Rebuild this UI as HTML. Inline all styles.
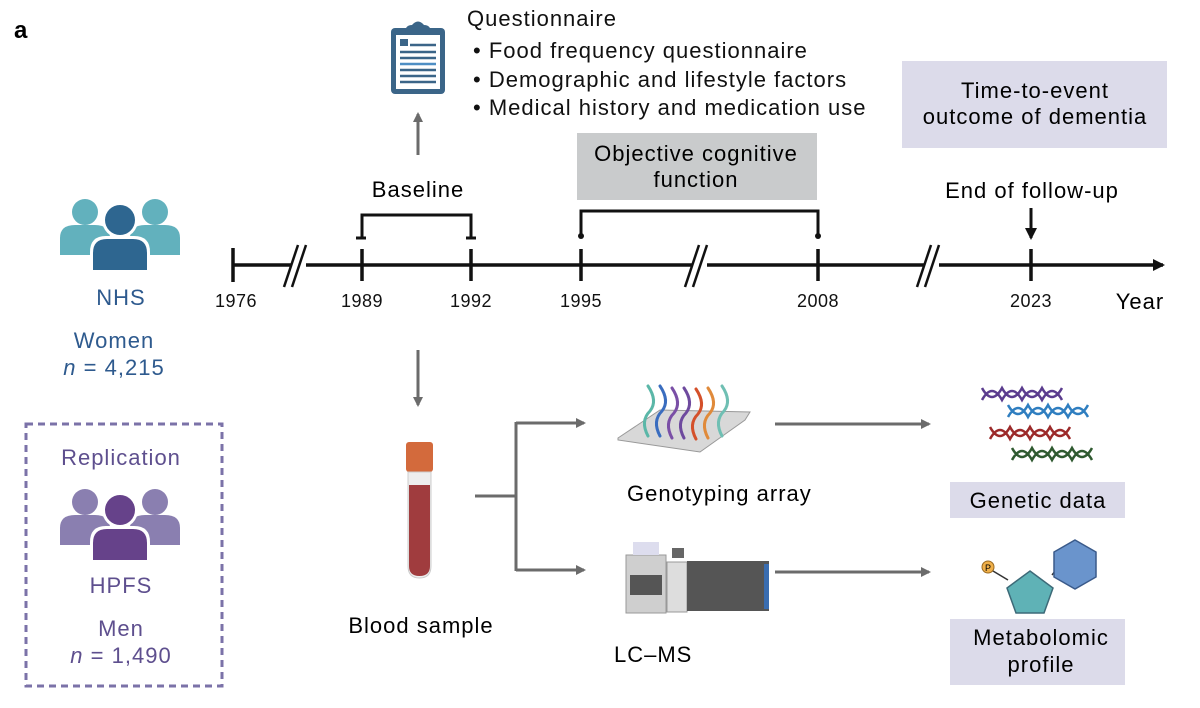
<!DOCTYPE html>
<html><head><meta charset="utf-8"><style>
html,body{margin:0;padding:0;background:#fff}
svg{display:block}
text{font-family:"Liberation Sans",sans-serif}
.t{font-size:22px;letter-spacing:1px}
</style></head><body>
<svg width="1200" height="708" viewBox="0 0 1200 708" xmlns="http://www.w3.org/2000/svg">
<defs>
<marker id="ag" markerWidth="10" markerHeight="10" refX="8" refY="5" orient="auto" markerUnits="userSpaceOnUse"><path d="M0,0 L10,5 L0,10 Z" fill="#6b6b6b"/></marker>
<marker id="ab" markerWidth="12" markerHeight="12" refX="10" refY="6" orient="auto" markerUnits="userSpaceOnUse"><path d="M0,0 L12,6 L0,12 Z" fill="#111"/></marker>
<g id="ppl">
<circle cx="85" cy="502" r="13"/><circle cx="155" cy="502" r="13"/>
<path d="M60,545 V528 Q60,515 75,515 H95 Q110,515 110,528 V545 Z"/>
<path d="M130,545 V528 Q130,515 145,515 H165 Q180,515 180,528 V545 Z"/>
</g>
</defs>
<text x="14" y="38" font-size="24" font-weight="bold">a</text>

<g fill="#62b1bd" transform="translate(0,-290)"><use href="#ppl"/></g>
<g transform="translate(0,-290)"><circle cx="120" cy="510" r="18" fill="#fff"/><circle cx="120" cy="510" r="15" fill="#2e6690"/>
<path d="M90,562 V542 Q90,526 106,526 H134 Q150,526 150,542 V562 Z" fill="#fff"/>
<path d="M93,560 V543 Q93,529 107,529 H133 Q147,529 147,543 V560 Z" fill="#2e6690"/></g>
<g fill="#2e5a8e" class="t" text-anchor="middle">
<text x="121" y="305">NHS</text><text x="114" y="348">Women</text><text x="114" y="375"><tspan font-style="italic">n</tspan> = 4,215</text></g>

<rect x="26" y="424" width="196" height="262" fill="none" stroke="#7b72a8" stroke-width="3" stroke-dasharray="7,5"/>
<g fill="#8a7fb0"><use href="#ppl"/></g>
<circle cx="120" cy="510" r="18" fill="#fff"/><circle cx="120" cy="510" r="15" fill="#66428a"/>
<path d="M90,562 V542 Q90,526 106,526 H134 Q150,526 150,542 V562 Z" fill="#fff"/>
<path d="M93,560 V543 Q93,529 107,529 H133 Q147,529 147,543 V560 Z" fill="#66428a"/>
<g fill="#5e4f8e" class="t" text-anchor="middle">
<text x="121" y="465">Replication</text><text x="121" y="593">HPFS</text><text x="121" y="636">Men</text><text x="121" y="663"><tspan font-style="italic">n</tspan> = 1,490</text></g>

<rect x="391" y="28" width="54" height="66" rx="4" fill="#3b6588"/>
<rect x="396" y="35" width="44" height="54" fill="#fff"/>
<path d="M405,33 Q405,25 412,25 Q418,18 424,25 Q431,25 431,33 Z" fill="#3b6588"/>
<rect x="400" y="39" width="8" height="7" fill="#3b6588"/>
<g stroke="#3b6588" stroke-width="2.5"><line x1="410" y1="45" x2="436" y2="45"/><line x1="400" y1="52" x2="436" y2="52"/><line x1="400" y1="58" x2="436" y2="58"/><line x1="400" y1="70" x2="436" y2="70"/><line x1="400" y1="76" x2="436" y2="76"/><line x1="400" y1="82" x2="436" y2="82"/></g>
<line x1="400" y1="64" x2="436" y2="64" stroke="#4e8ec4" stroke-width="2.5"/>

<g class="t" fill="#111">
<text x="467" y="26">Questionnaire</text>
<text x="473" y="58">• Food frequency questionnaire</text>
<text x="473" y="87">• Demographic and lifestyle factors</text>
<text x="473" y="115">• Medical history and medication use</text></g>

<line x1="418" y1="155" x2="418" y2="114" stroke="#6b6b6b" stroke-width="3" marker-end="url(#ag)"/>

<rect x="577" y="133" width="240" height="67" fill="#c9cbcc"/>
<text x="696" y="161" class="t" text-anchor="middle">Objective cognitive</text>
<text x="696" y="187" class="t" text-anchor="middle">function</text>
<rect x="902" y="61" width="265" height="87" fill="#dcdbea"/>
<text x="1035" y="98" class="t" text-anchor="middle">Time-to-event</text>
<text x="1035" y="124" class="t" text-anchor="middle">outcome of dementia</text>

<text x="418" y="197" class="t" text-anchor="middle">Baseline</text>
<text x="1032" y="198" class="t" text-anchor="middle">End of follow-up</text>
<line x1="1031" y1="208" x2="1031" y2="238" stroke="#111" stroke-width="3" marker-end="url(#ab)"/>

<path d="M362,237 V215 H471 V237" fill="none" stroke="#111" stroke-width="3"/>
<line x1="356" y1="238" x2="366" y2="238" stroke="#111" stroke-width="3"/>
<line x1="466" y1="238" x2="476" y2="238" stroke="#111" stroke-width="3"/>
<path d="M581,235 V211 H818 V235" fill="none" stroke="#111" stroke-width="3"/>
<circle cx="581" cy="236" r="3" fill="#111"/><circle cx="818" cy="236" r="3" fill="#111"/>

<line x1="233" y1="265" x2="1163" y2="265" stroke="#111" stroke-width="3.5" marker-end="url(#ab)"/>
<g stroke="#111" stroke-width="3.5">
<line x1="233" y1="248" x2="233" y2="282"/><line x1="362" y1="249" x2="362" y2="281"/><line x1="471" y1="249" x2="471" y2="281"/><line x1="581" y1="249" x2="581" y2="281"/><line x1="818" y1="249" x2="818" y2="281"/><line x1="1031" y1="249" x2="1031" y2="281"/></g>
<g stroke="#fff" stroke-width="8"><line x1="291" y1="265" x2="306" y2="265"/><line x1="692" y1="265" x2="707" y2="265"/><line x1="924" y1="265" x2="939" y2="265"/></g>
<g stroke="#111" stroke-width="2.5">
<line x1="284" y1="287" x2="298" y2="245"/><line x1="292" y1="287" x2="306" y2="245"/>
<line x1="685" y1="287" x2="699" y2="245"/><line x1="693" y1="287" x2="707" y2="245"/>
<line x1="917" y1="287" x2="931" y2="245"/><line x1="925" y1="287" x2="939" y2="245"/></g>
<g font-size="18" text-anchor="middle" fill="#111" letter-spacing="0.5">
<text x="236" y="307">1976</text><text x="362" y="307">1989</text><text x="471" y="307">1992</text><text x="581" y="307">1995</text><text x="818" y="307">2008</text><text x="1031" y="307">2023</text></g>
<text x="1140" y="309" class="t" text-anchor="middle">Year</text>

<line x1="418" y1="350" x2="418" y2="405" stroke="#6b6b6b" stroke-width="3" marker-end="url(#ag)"/>
<rect x="406" y="442" width="27" height="30" rx="3" fill="#d36a3c"/>
<path d="M408,472 H431 V566 Q431,578 419.5,578 Q408,578 408,566 Z" fill="#eee" stroke="#ccc"/>
<path d="M409,485 H430 V566 Q430,576 419.5,576 Q409,576 409,566 Z" fill="#a03c3e"/>
<text x="421" y="633" class="t" text-anchor="middle">Blood sample</text>

<g stroke="#6b6b6b" stroke-width="3" fill="none">
<line x1="475" y1="496" x2="516" y2="496"/>
<line x1="516" y1="422" x2="516" y2="571"/>
<line x1="516" y1="423" x2="584" y2="423" marker-end="url(#ag)"/>
<line x1="516" y1="570" x2="584" y2="570" marker-end="url(#ag)"/>
<line x1="775" y1="424" x2="929" y2="424" marker-end="url(#ag)"/>
<line x1="775" y1="572" x2="929" y2="572" marker-end="url(#ag)"/></g>

<path d="M618,438 L660,410 L750,412 L745,420 L700,452 L618,440 Z" fill="#d8d8d8" stroke="#999"/>
<g fill="none" stroke-width="3" stroke-linecap="round">
<path d="M648,436 q-8,-15 2,-25 q8,-10 -2,-25" stroke="#5bb7a8"/>
<path d="M660,436 q-8,-15 2,-25 q8,-10 -2,-25" stroke="#3a6dbf"/>
<path d="M672,438 q-8,-15 2,-25 q8,-10 -2,-25" stroke="#7a4fa6"/>
<path d="M684,438 q-8,-15 2,-25 q8,-10 -2,-25" stroke="#6e4a9e"/>
<path d="M696,439 q-8,-15 2,-25 q8,-10 -2,-25" stroke="#d4502a"/>
<path d="M708,438 q-8,-15 2,-25 q8,-10 -2,-25" stroke="#e08a3a"/>
<path d="M722,436 q-8,-15 2,-25 q8,-10 -2,-25" stroke="#6fbfb3"/></g>
<text x="627" y="501" class="t">Genotyping array</text>

<rect x="626" y="555" width="40" height="58" fill="#cfcfcf" stroke="#999"/>
<rect x="630" y="575" width="32" height="20" fill="#555"/>
<rect x="633" y="542" width="26" height="13" fill="#dde"/>
<rect x="667" y="562" width="20" height="50" fill="#ddd" stroke="#999"/>
<rect x="672" y="548" width="12" height="10" fill="#666"/>
<rect x="687" y="561" width="82" height="50" fill="#555"/>
<rect x="764" y="564" width="5" height="45" fill="#3a6db0"/>
<text x="614" y="662" class="t">LC–MS</text>

<g fill="none" stroke-width="2.5">
<path d="M982,388 q10,18 20,0 q10,18 20,0 q10,18 20,0 q10,18 20,0 M982,400 q10,-18 20,0 q10,-18 20,0 q10,-18 20,0 q10,-18 20,0" stroke="#5b3c8e"/>
<path d="M1008,405 q10,18 20,0 q10,18 20,0 q10,18 20,0 q10,18 20,0 M1008,417 q10,-18 20,0 q10,-18 20,0 q10,-18 20,0 q10,-18 20,0" stroke="#2f7ec0"/>
<path d="M990,427 q10,18 20,0 q10,18 20,0 q10,18 20,0 q10,18 20,0 M990,439 q10,-18 20,0 q10,-18 20,0 q10,-18 20,0 q10,-18 20,0" stroke="#9c2a2a"/>
<path d="M1012,448 q10,18 20,0 q10,18 20,0 q10,18 20,0 q10,18 20,0 M1012,460 q10,-18 20,0 q10,-18 20,0 q10,-18 20,0 q10,-18 20,0" stroke="#2f5a30"/></g>
<rect x="950" y="482" width="175" height="36" fill="#dcdbea"/>
<text x="1038" y="508" class="t" text-anchor="middle">Genetic data</text>

<line x1="988" y1="568" x2="1008" y2="580" stroke="#333" stroke-width="1.5"/>
<line x1="1052" y1="575" x2="1056" y2="570" stroke="#333" stroke-width="1.5"/>
<circle cx="988" cy="567" r="6" fill="#f0b04a" stroke="#9a6a20"/>
<text x="988" y="571" font-size="9" text-anchor="middle">P</text>
<path d="M1030,571 L1053,588 L1044,613 L1016,613 L1007,588 Z" fill="#5fb2b6" stroke="#3d6a78" stroke-width="1.5"/>
<path d="M1075,540 L1096,552 L1096,577 L1075,589 L1054,577 L1054,552 Z" fill="#6a94cc" stroke="#3a5a8a" stroke-width="1.5"/>
<rect x="950" y="619" width="175" height="66" fill="#dcdbea"/>
<text x="1041" y="645" class="t" text-anchor="middle">Metabolomic</text>
<text x="1041" y="672" class="t" text-anchor="middle">profile</text>
</svg>
</body></html>
